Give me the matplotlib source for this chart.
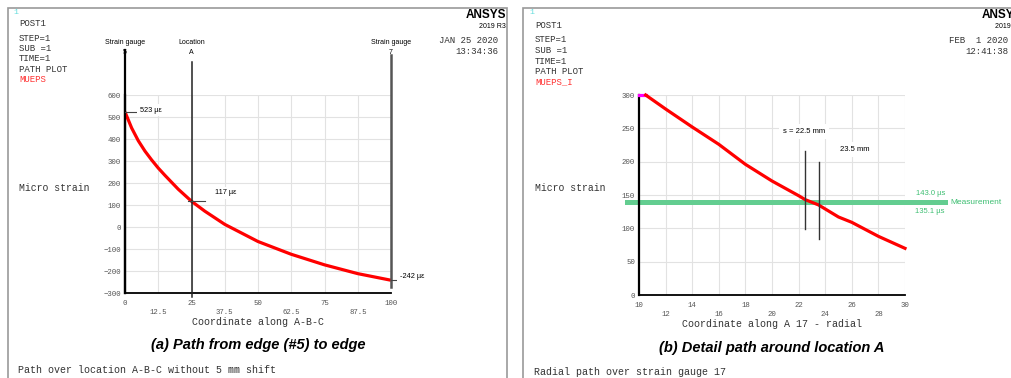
import matplotlib.pyplot as plt
import matplotlib.transforms as mtransforms
from matplotlib.patches import Rectangle

# path A-B-C, edge to edge
path_x = [0, 2.5, 5, 7.5, 10, 12.5, 15, 20, 25, 30, 37.5, 50, 62.5, 75, 87.5, 100]
path_y = [523, 450, 392, 345, 305, 268, 235, 172, 117, 72, 12, -66, -124, -172, -212, -242]
gauge_x = [0, 25, 100]
gauge_names = [('Strain gauge', '5'), ('Location', 'A'), ('Strain gauge', '7')]
path_labels = [(0, 523, '523 µε'), (25, 117, '117 µε'), (100, -242, '-242 µε')]

# radial path over gauge 17
radial_x = [10, 10.5, 12, 14, 16, 18, 20, 22, 22.5, 23.5, 25, 26, 28, 30]
radial_y = [300, 300, 279, 252, 226, 196, 171, 149, 143.0, 135.1, 117, 109, 88, 70]
meas_low, meas_high = 135.1, 143.0
marker_s = [22.5, 23.5]
marker_top = [216, 200]
marker_bottom = [99, 84]

W, H = 1011, 378
MONO = 'Liberation Mono'
SANS = 'Liberation Sans'
TICK_GREY = '#555555'

fig = plt.figure(figsize=(W / 100, H / 100), dpi=100)


def fx(x):
    return x / W


def fy(y):
    return 1 - y / H


def ftext(x, y, s, **kw):
    kw.setdefault('family', MONO)
    kw.setdefault('fontsize', 6.5)
    kw.setdefault('color', '#333333')
    fig.text(fx(x), fy(y), s, va='center', **kw)


# panel frames
fig.patches.append(Rectangle((fx(8), -0.1), fx(499), 0.1 + fy(8), transform=fig.transFigure,
                             fill=False, edgecolor='#999999', lw=1.2))
fig.patches.append(Rectangle((fx(523), -0.1), 0.6, 0.1 + fy(8), transform=fig.transFigure,
                             fill=False, edgecolor='#999999', lw=1.2))


def header(x0, y0, step, x_logo, x_date, result, date, time, year):
    ftext(x0 - 6, 13, '1', color='#66dddd', fontsize=6)
    ftext(x0, y0, 'POST1')
    lines = ['STEP=1', 'SUB =1', 'TIME=1', 'PATH PLOT']
    for i, s in enumerate(lines):
        ftext(x0, y0 + 14.5 + step * i, s)
    ftext(x0, y0 + 14.5 + step * len(lines), result, color='#ff3333')
    ftext(x_logo, 15, 'ANSYS', family=SANS, fontweight='bold', fontsize=8.5, color='black', ha='right')
    ftext(x_logo, 26, year, family=SANS, fontsize=5, color='black', ha='right')
    ftext(x_date, 40.5, date, ha='right')
    ftext(x_date, 51.5, time, ha='right')
    ftext(x0, 188, 'Micro strain', fontsize=7)


header(19, 24, 10.2, 506, 498, 'MUEPS', 'JAN 25 2020', '13:34:36', '2019 R3')
header(535, 25.5, 10.5, 1022, 1008, 'MUEPS_I', 'FEB  1 2020', '12:41:38', '2019 R3')


def style_axes(ax, xmaj, xmin, yticks, xlabel):
    ax.set_xticks(xmaj)
    ax.set_xticks(xmin, minor=True)
    ax.set_xticklabels([f'{v:g}' for v in xmaj])
    ax.set_xticklabels([f'{v:g}' for v in xmin], minor=True)
    ax.set_yticks(yticks)
    ax.set_yticklabels([str(v).replace('-', '−') for v in yticks])
    ax.tick_params(axis='both', which='both', length=0, labelsize=5.3, labelcolor=TICK_GREY)
    ax.tick_params(axis='x', which='major', pad=5)
    ax.tick_params(axis='x', which='minor', pad=11.5)
    ax.tick_params(axis='y', pad=3)
    for lab in ax.get_xticklabels(which='both') + ax.get_yticklabels():
        lab.set_family(MONO)
    ax.grid(True, which='both', color='#e2e2e2', lw=0.8)
    ax.set_axisbelow(True)
    for side in ['top', 'right']:
        ax.spines[side].set_visible(False)
    ax.spines['left'].set_linewidth(1.6)
    ax.spines['bottom'].set_linewidth(1.3)
    ax.set_xlabel(xlabel, family=MONO, fontsize=7.2, color='#333333', labelpad=1)


# (a) path from edge to edge
ax1 = fig.add_axes([fx(125), fy(293), fx(266), fy(95) - fy(293)])
ax1.set_xlim(0, 100)
ax1.set_ylim(-300, 600)
style_axes(ax1, [0, 25, 50, 75, 100], [12.5, 37.5, 62.5, 87.5],
           list(range(-300, 601, 100)), 'Coordinate along A-B-C')
ax1.plot(path_x, path_y, color='#ff0000', lw=2.3, zorder=3, solid_capstyle='butt')

xfig1 = mtransforms.blended_transform_factory(ax1.transData, fig.transFigure)
gauge_tops = [50, 62, 55]
gauge_bottoms = [293, 297, 287]
gauge_styles = [('black', 1.6), ('#222222', 1.1), ('#555555', 1.8)]
for gx, (l1, l2), top, bot, (c, lw) in zip(gauge_x, gauge_names, gauge_tops, gauge_bottoms, gauge_styles):
    ax1.plot([gx, gx], [fy(top), fy(bot)], color=c, lw=lw, transform=xfig1, clip_on=False, zorder=4)
    ax1.text(gx, fy(43), l1, transform=xfig1, ha='center', va='center', fontsize=5, family=SANS)
    ax1.text(gx, fy(53), l2, transform=xfig1, ha='center', va='center', fontsize=5, family=SANS)

tick_spans = [(0, 6.5), (23.5, 30), (100, 105.5)]
label_pos = [(140, 110), (215, 193), (400, 277)]
for (px_, py_, s), (a, b), (tx, ty) in zip(path_labels, tick_spans, label_pos):
    ax1.plot([a, b], [py_, py_], color='#444444', lw=0.8, clip_on=False, zorder=4)
    fig.text(fx(tx), fy(ty), s, ha='left', va='center', fontsize=5.3, family=SANS,
             bbox=dict(facecolor='white', edgecolor='none', pad=2))

fig.text(fx(258), fy(345), '(a) Path from edge (#5) to edge', ha='center', va='center',
         family=SANS, fontsize=10.5, fontweight='bold', fontstyle='italic')
ftext(18, 370, 'Path over location A-B-C without 5 mm shift', fontsize=7.2)

# (b) detail path around location A
ax2 = fig.add_axes([fx(639), fy(295), fx(266), fy(95) - fy(295)])
ax2.set_xlim(10, 30)
ax2.set_ylim(0, 300)
style_axes(ax2, [10, 14, 18, 22, 26, 30], [12, 16, 20, 24, 28],
           list(range(0, 301, 50)), 'Coordinate along A 17 - radial')
ax2.plot(radial_x[:2], radial_y[:2], color='#ff00ff', lw=2.3, zorder=3, clip_on=False)
ax2.plot(radial_x[1:], radial_y[1:], color='#ff0000', lw=2.3, zorder=3, clip_on=False)

for s, top, bot in zip(marker_s, marker_top, marker_bottom):
    ax2.plot([s, s], [bot, top], color='#333333', lw=1.0, zorder=4)

ax2.text(22.4, 245, f's = {marker_s[0]} mm', ha='center', va='center', fontsize=5.5, family=SANS,
         bbox=dict(facecolor='white', edgecolor='none', pad=3), zorder=2)
ax2.text(26.2, 218, f'{marker_s[1]} mm', ha='center', va='center', fontsize=5.5, family=SANS,
         bbox=dict(facecolor='white', edgecolor='none', pad=3), zorder=2)

xax2 = mtransforms.blended_transform_factory(ax2.transAxes, ax2.transData)
ax2.fill_between([-0.053, 1.162], meas_low, meas_high, color='#63cd90', lw=0,
                 transform=xax2, clip_on=False, zorder=2.5)
green = '#3fbf73'
ax2.text(1.15, meas_high + 4, f'{meas_high:.1f} µs', transform=xax2, ha='right', va='bottom',
         fontsize=5.5, family=SANS, color=green)
ax2.text(1.15, meas_low - 4, f'{meas_low:.1f} µs', transform=xax2, ha='right', va='top',
         fontsize=5.5, family=SANS, color=green)
ax2.text(1.172, (meas_low + meas_high) / 2, 'Measurement', transform=xax2, ha='left', va='center',
         fontsize=6, family=SANS, color=green)

fig.text(fx(772), fy(348), '(b) Detail path around location A', ha='center', va='center',
         family=SANS, fontsize=10.5, fontweight='bold', fontstyle='italic')
ftext(534, 372, 'Radial path over strain gauge 17', fontsize=7.2)

fig.savefig('out.png', dpi=100)
